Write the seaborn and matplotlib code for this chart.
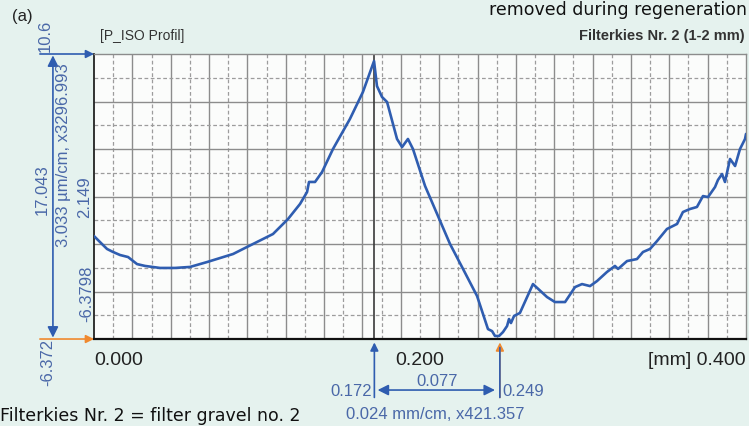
import numpy as np
import pandas as pd
import matplotlib
matplotlib.use("Agg")
import matplotlib.pyplot as plt
import matplotlib.transforms as mtransforms
import seaborn as sns

# Profil-Daten (x in mm, z in µm)
profil_x = [0.000, 0.0037, 0.008, 0.0117, 0.016, 0.0209, 0.0264, 0.0313, 0.0405, 0.0497,
            0.0589, 0.0693, 0.0853, 0.0939, 0.1098, 0.119, 0.1264, 0.1307, 0.1319, 0.1356,
            0.1399, 0.1466, 0.157, 0.165, 0.1718, 0.1736, 0.1767, 0.1798, 0.1859, 0.189,
            0.1926, 0.1957, 0.2031, 0.2184, 0.2264, 0.235, 0.2417, 0.2442, 0.246, 0.2485,
            0.2509, 0.2534, 0.2546, 0.2558, 0.2577, 0.2613, 0.2693, 0.2779, 0.2828, 0.289,
            0.2951, 0.2994, 0.3043, 0.3086, 0.3147, 0.3196, 0.3215, 0.327, 0.3331, 0.3368,
            0.3411, 0.3454, 0.3515, 0.3577, 0.3613, 0.3656, 0.3699, 0.3736, 0.3767, 0.381,
            0.3828, 0.3853, 0.3871, 0.3902, 0.3933, 0.3963, 0.3994, 0.4000]
profil_z = [-0.24, -0.60, -1.01, -1.19, -1.37, -1.49, -1.91, -2.02, -2.14, -2.14,
            -2.08, -1.79, -1.31, -0.89, -0.12, 0.77, 1.67, 2.38, 2.98, 2.98,
            3.57, 4.94, 6.73, 8.34, 10.18, 8.69, 8.04, 7.74, 5.54, 5.06,
            5.54, 4.94, 2.74, -0.71, -2.20, -3.81, -5.78, -5.90, -6.19, -6.19,
            -5.96, -5.60, -5.18, -5.42, -5.00, -4.82, -3.10, -3.87, -4.17, -4.17,
            -3.28, -3.10, -3.22, -2.92, -2.38, -2.02, -2.20, -1.73, -1.61, -1.19,
            -1.01, -0.54, 0.18, 0.48, 1.19, 1.37, 1.49, 2.14, 2.08, 2.68,
            3.10, 3.45, 2.98, 4.35, 3.93, 4.94, 5.54, 5.84]

# Achsenbereich und Markierungen
z_oben = 10.6
z_unten = -6.372
x_max = 0.400
x_ticks = [0.000, 0.200, 0.400]
x_tick_labels = ["0.000", "0.200", "[mm] 0.400"]
cursor_1 = 0.172
cursor_2 = 0.249
n_gitter_x = 17
n_gitter_z = 6

df = pd.DataFrame({"x": profil_x, "z": profil_z})

sns.set_style("white")
plt.rcParams["font.family"] = ["Liberation Sans", "DejaVu Sans"]

blau = "#2f5db0"
anno = "#4a68a8"
orange = "#f0892e"
fs_anno = 12

fig = plt.figure(figsize=(7.49, 4.27), dpi=100, facecolor="#e5f2ee")
ax = fig.add_axes([0.1255, 0.2037, 0.8705, 0.6675])
ax.set_facecolor("#fbfcfb")
ax.set_xlim(0, x_max)
ax.set_ylim(z_unten, z_oben)

# Gitter: durchgezogen + gestrichelt
for k in range(1, n_gitter_x * 2):
    xv = x_max * k / (n_gitter_x * 2)
    if k % 2 == 0:
        ax.axvline(xv, color="#8c8c8c", lw=1.0, zorder=1)
    else:
        ax.axvline(xv, color="#9c9c9c", lw=0.9, ls=(0, (3, 2)), zorder=1)
for k in range(1, n_gitter_z * 2):
    zv = z_unten + (z_oben - z_unten) * k / (n_gitter_z * 2)
    if k % 2 == 0:
        ax.axhline(zv, color="#8c8c8c", lw=1.0, zorder=1)
    else:
        ax.axhline(zv, color="#9c9c9c", lw=0.9, ls=(0, (3, 2)), zorder=1)

ax.axvline(cursor_1, color="#3a3a3a", lw=1.2, zorder=2)

sns.lineplot(data=df, x="x", y="z", ax=ax, color=blau, lw=1.9, sort=False,
             estimator=None, zorder=3)

for side in ["top", "right"]:
    ax.spines[side].set_color("#8c8c8c")
    ax.spines[side].set_linewidth(1.0)
ax.spines["left"].set_color("#222222")
ax.spines["left"].set_linewidth(1.3)
ax.spines["bottom"].set_color("#111111")
ax.spines["bottom"].set_linewidth(1.6)

ax.set_xticks(x_ticks)
ax.set_xticklabels(x_tick_labels)
for lab, ha in zip(ax.get_xticklabels(), ["left", "center", "right"]):
    lab.set_horizontalalignment(ha)
ax.tick_params(axis="x", direction="inout", length=9, width=1.3, color="#111111",
               labelsize=14, labelcolor="#222222", pad=4)
ax.set_yticks([])
ax.set_xlabel("")
ax.set_ylabel("")

# Annotationen links
ty = mtransforms.blended_transform_factory(ax.transAxes, ax.transData)
ax.annotate("", xy=(0.0, z_oben), xytext=(-0.083, z_oben), xycoords=ty, textcoords=ty,
            arrowprops=dict(arrowstyle="-|>", color=blau, lw=1.2, mutation_scale=12,
                            shrinkA=0, shrinkB=0), annotation_clip=False)
ax.annotate("", xy=(0.0, z_unten), xytext=(-0.083, z_unten), xycoords=ty, textcoords=ty,
            arrowprops=dict(arrowstyle="-|>", color=orange, lw=1.2, mutation_scale=12,
                            shrinkA=0, shrinkB=0), annotation_clip=False)
ax.annotate("", xy=(-0.063, z_oben), xytext=(-0.063, z_unten), xycoords=ty, textcoords=ty,
            arrowprops=dict(arrowstyle="<|-|>", color=blau, lw=1.2, mutation_scale=16,
                            shrinkA=1, shrinkB=1), annotation_clip=False)

ax.text(-0.075, 1.067, "10.6", transform=ax.transAxes, rotation=90, ha="center",
        va="center", color=anno, fontsize=fs_anno)
ax.text(-0.080, 0.526, "17.043", transform=ax.transAxes, rotation=90, ha="center",
        va="center", color=anno, fontsize=fs_anno)
ax.text(-0.047, 0.649, "3.033 µm/cm, x3296.993", transform=ax.transAxes, rotation=90,
        ha="center", va="center", color=anno, fontsize=fs_anno)
ax.text(-0.014, 2.149, "2.149", transform=ty, rotation=90, ha="center", va="center",
        color=anno, fontsize=fs_anno)
ax.text(-0.011, 0.063, "-6.3798", transform=ax.transAxes, rotation=90, ha="center",
        va="bottom", color=anno, fontsize=fs_anno)
ax.text(-0.071, -0.077, "-6.372", transform=ax.transAxes, rotation=90, ha="center",
        va="center", color=anno, fontsize=fs_anno)

# Annotationen unten (Cursor)
tx = mtransforms.blended_transform_factory(ax.transData, ax.transAxes)
ax.annotate("", xy=(cursor_1, -0.012), xytext=(cursor_1, -0.205), xycoords=tx, textcoords=tx,
            arrowprops=dict(arrowstyle="-|>", color=blau, lw=1.2, mutation_scale=12,
                            shrinkA=0, shrinkB=0), annotation_clip=False)
ax.annotate("", xy=(cursor_2, -0.012), xytext=(cursor_2, -0.205), xycoords=tx, textcoords=tx,
            arrowprops=dict(arrowstyle="-|>", color=orange, lw=1.2, mutation_scale=12,
                            shrinkA=0, shrinkB=0), annotation_clip=False)
ax.annotate("", xy=(cursor_2, -0.205), xytext=(cursor_2, -0.03), xycoords=tx, textcoords=tx,
            arrowprops=dict(arrowstyle="-", color=blau, lw=1.2, shrinkA=0, shrinkB=0),
            annotation_clip=False)
ax.annotate("", xy=(cursor_1 + 0.002, -0.179), xytext=(cursor_2 - 0.003, -0.179),
            xycoords=tx, textcoords=tx,
            arrowprops=dict(arrowstyle="<|-|>", color=blau, lw=1.2, mutation_scale=16,
                            shrinkA=0, shrinkB=0), annotation_clip=False)

ax.text(cursor_1 - 0.0015, -0.182, f"{cursor_1:.3f}", transform=tx, ha="right", va="center",
        color=anno, fontsize=fs_anno)
ax.text(cursor_2 + 0.0015, -0.182, f"{cursor_2:.3f}", transform=tx, ha="left", va="center",
        color=anno, fontsize=fs_anno)
ax.text((cursor_1 + cursor_2) / 2, -0.145, f"{cursor_2 - cursor_1:.3f}", transform=tx,
        ha="center", va="center", color=anno, fontsize=fs_anno)
ax.text(0.2095, -0.262, "0.024 mm/cm, x421.357", transform=tx, ha="center", va="center",
        color=anno, fontsize=fs_anno)

# Titel und Beschriftungen
fig.text(0.016, 0.962, "(a)", ha="left", va="center", fontsize=12, color="#222222")
ax.text(0.009, 1.065, "[P_ISO Profil]", transform=ax.transAxes, ha="left", va="center",
        fontsize=10, color="#333333")
ax.text(0.998, 1.065, "Filterkies Nr. 2 (1-2 mm)", transform=ax.transAxes, ha="right",
        va="center", fontsize=10.5, fontweight="bold", color="#333333")
fig.text(0.997, 0.977, "removed during regeneration", ha="right", va="center",
         fontsize=12.5, color="#111111", family="DejaVu Sans")
fig.text(0.0, 0.004, "Filterkies Nr. 2 = filter gravel no. 2", ha="left", va="bottom",
         fontsize=12.5, color="#111111", family="DejaVu Sans")

fig.savefig("out.png", dpi=100, facecolor=fig.get_facecolor())
